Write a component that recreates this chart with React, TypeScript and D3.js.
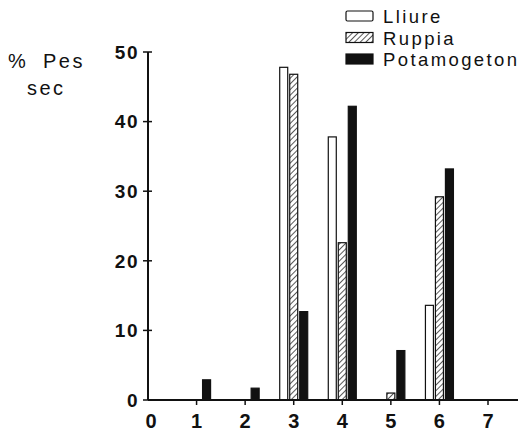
import React, { useEffect, useRef } from "react";
import * as d3 from "d3";

const categories = [1, 2, 3, 4, 5, 6];
const seriesNames = ["Lliure", "Ruppia", "Potamogeton"];
const lliure = [0, 0, 47.8, 37.8, 0, 13.6];
const ruppia = [0, 0, 46.8, 22.6, 1.0, 29.2];
const potamogeton = [2.9, 1.7, 12.7, 42.2, 7.1, 33.2];
const xTicks = [0, 1, 2, 3, 4, 5, 6, 7];
const yTicks = [0, 10, 20, 30, 40, 50];

export default function App() {
  const ref = useRef<SVGSVGElement>(null);
  useEffect(() => {
    const svg = d3.select(ref.current);
    svg.selectAll("*").remove();
    const font = "'Liberation Sans', Arial, Helvetica, sans-serif";
    const ink = "#111";
    const defs = svg.append("defs");
    const pat = defs.append("pattern").attr("id", "hatch").attr("patternUnits", "userSpaceOnUse")
      .attr("width", 4).attr("height", 4).attr("patternTransform", "rotate(45)");
    pat.append("rect").attr("width", 4).attr("height", 4).attr("fill", "white");
    pat.append("line").attr("x1", 0).attr("y1", 0).attr("x2", 0).attr("y2", 4)
      .attr("stroke", ink).attr("stroke-width", 1.4);

    const x = d3.scaleLinear().domain([0, 7]).range([148, 488]);
    const y = d3.scaleLinear().domain([0, 50]).range([400, 52]);

    const series = [lliure, ruppia, potamogeton];
    const fills = ["white", "url(#hatch)", ink];
    const offsets = [-10, 0, 10];
    const bw = 8;

    series.forEach((vals, si) => {
      svg.append("g").selectAll("rect").data(vals.map((v, i) => ({ v, c: categories[i] })).filter(d => d.v > 0))
        .join("rect")
        .attr("x", d => x(d.c) + offsets[si] - bw / 2)
        .attr("y", d => y(d.v))
        .attr("width", bw)
        .attr("height", d => y(0) - y(d.v))
        .attr("fill", fills[si])
        .attr("stroke", ink)
        .attr("stroke-width", 1.2);
    });

    // axes
    svg.append("line").attr("x1", x(0)).attr("x2", 518).attr("y1", y(0)).attr("y2", y(0))
      .attr("stroke", ink).attr("stroke-width", 2);
    svg.append("line").attr("x1", x(0)).attr("x2", x(0)).attr("y1", y(0)).attr("y2", y(50))
      .attr("stroke", ink).attr("stroke-width", 2);

    yTicks.forEach(t => {
      svg.append("line").attr("x1", x(0) - 5).attr("x2", x(0) + 4).attr("y1", y(t)).attr("y2", y(t))
        .attr("stroke", ink).attr("stroke-width", 1.5);
      svg.append("text").attr("x", 139).attr("y", y(t)).attr("dy", "0.36em")
        .attr("text-anchor", "end").attr("font-family", font).attr("font-weight", "bold")
        .attr("font-size", 19).attr("letter-spacing", 1.5).attr("fill", ink).text(t);
    });
    xTicks.forEach(t => {
      if (t > 0) {
        svg.append("line").attr("x1", x(t)).attr("x2", x(t)).attr("y1", y(0)).attr("y2", y(0) + 5)
          .attr("stroke", ink).attr("stroke-width", 1.5);
      }
      svg.append("text").attr("x", x(t) + (t === 0 ? 3 : 0)).attr("y", 428)
        .attr("text-anchor", "middle").attr("font-family", font).attr("font-weight", "bold")
        .attr("font-size", 20).attr("fill", ink).text(t);
    });

    // y label
    svg.append("text").attr("x", 8).attr("y", 68)
      .attr("font-family", font).attr("font-size", 20).attr("fill", ink).text("%");
    svg.append("text").attr("x", 43).attr("y", 68)
      .attr("font-family", font).attr("font-size", 20).attr("letter-spacing", 2.5).attr("fill", ink).text("Pes");
    svg.append("text").attr("x", 27).attr("y", 95)
      .attr("font-family", font).attr("font-size", 20).attr("letter-spacing", 2.5).attr("fill", ink).text("sec");

    // legend
    seriesNames.forEach((n, i) => {
      const ly = 11 + i * 21.5;
      svg.append("rect").attr("x", 346).attr("y", ly).attr("width", 27).attr("height", 10)
        .attr("fill", fills[i]).attr("stroke", ink).attr("stroke-width", 1.2).attr("rx", i === 0 ? 1.5 : 0);
      svg.append("text").attr("x", 383).attr("y", ly + 12).attr("font-family", font)
        .attr("font-size", 18.5).attr("letter-spacing", 2.4).attr("fill", ink).text(n);
    });
  }, []);
  return <svg ref={ref} width={522} height={432} style={{ display: "block", position: "absolute", left: 0, top: 0, background: "white" }} />;
}
